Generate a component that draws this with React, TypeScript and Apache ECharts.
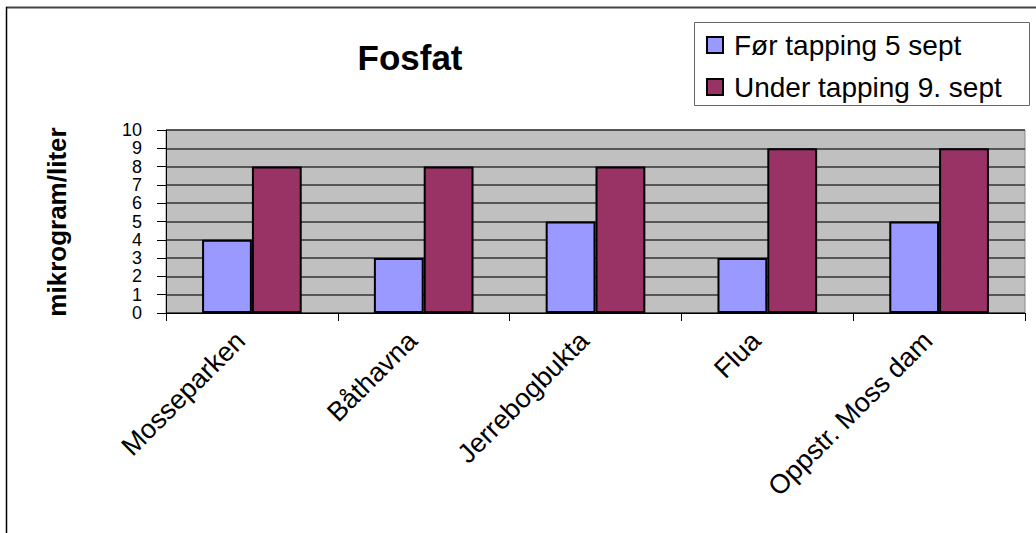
import React, { useEffect, useRef } from "react";
import * as echarts from "echarts";

const categories = ["Mosseparken", "Båthavna", "Jerrebogbukta", "Flua", "Oppstr. Moss dam"];
const forTapping = [4, 3, 5, 3, 5];
const underTapping = [8, 8, 8, 9, 9];
const seriesNames = ["Før tapping 5 sept", "Under tapping 9. sept"];
const titleText = "Fosfat";
const yAxisName = "mikrogram/liter";

const FONT = "'Liberation Sans', Arial, sans-serif";

export default function App() {
  const ref = useRef<HTMLDivElement>(null);
  useEffect(() => {
    if (!ref.current) return;
    const chart = echarts.init(ref.current, undefined, { renderer: "svg" });
    chart.setOption({
      animation: false,
      backgroundColor: "#ffffff",
      title: {
        text: titleText,
        left: 405,
        top: 35,
        textAlign: "center",
        textStyle: { fontFamily: FONT, fontSize: 35, fontWeight: "bold", color: "#000" },
      },
      legend: {
        orient: "vertical",
        left: 706,
        top: 31,
        padding: 0,
        itemWidth: 16,
        itemHeight: 16,
        itemGap: 14,
        icon: "rect",
        textStyle: { fontFamily: FONT, fontSize: 28, color: "#000", lineHeight: 28, padding: [0, 0, 0, 6] },
        data: seriesNames,
      },
      graphic: [
        { type: "line", shape: { x1: 6, y1: 7.5, x2: 1036, y2: 7.5 }, style: { stroke: "#444", lineWidth: 2 } },
        { type: "line", shape: { x1: 6.5, y1: 7, x2: 6.5, y2: 533 }, style: { stroke: "#000", lineWidth: 1.5 } },
        { type: "rect", shape: { x: 694.5, y: 22.5, width: 335, height: 83 }, style: { fill: "none", stroke: "#666", lineWidth: 1 }, z: -1 },
        {
          type: "text",
          x: 57,
          y: 222,
          rotation: Math.PI / 2,
          style: {
            text: yAxisName,
            fontFamily: FONT,
            fontSize: 26,
            fontWeight: "bold",
            fill: "#000",
            textAlign: "center",
            textVerticalAlign: "middle",
          },
        },
      ],
      grid: {
        left: 166,
        right: 11,
        top: 130,
        bottom: 220,
        show: true,
        backgroundColor: "#C0C0C0",
        borderColor: "#8a8a8a",
        borderWidth: 1,
      },
      xAxis: {
        type: "category",
        data: categories,
        boundaryGap: true,
        axisLine: { show: true, lineStyle: { color: "#000", width: 1 } },
        axisTick: { show: true, length: 8, alignWithLabel: false, lineStyle: { color: "#000" } },
        axisLabel: {
          rotate: 45,
          interval: 0,
          margin: 12,
          padding: [0, 16, 0, 0],
          fontFamily: FONT,
          fontSize: 27,
          color: "#000",
        },
      },
      yAxis: {
        type: "value",
        min: 0,
        max: 10,
        interval: 1,
        axisLine: { show: true, lineStyle: { color: "#000", width: 1 } },
        axisTick: { show: true, length: 9, lineStyle: { color: "#000" } },
        splitLine: { show: true, lineStyle: { color: "#333", width: 1.5 } },
        axisLabel: {
          margin: 24,
          fontFamily: FONT,
          fontSize: 18,
          color: "#000",
          showMinLabel: true,
          showMaxLabel: true,
          hideOverlap: false,
        },
      },
      series: [
        {
          name: seriesNames[0],
          type: "bar",
          data: forTapping,
          barGap: "0%",
          barCategoryGap: "42%",
          itemStyle: { color: "#9999FF", borderColor: "#000", borderWidth: 2 },
        },
        {
          name: seriesNames[1],
          type: "bar",
          data: underTapping,
          barGap: "0%",
          barCategoryGap: "42%",
          itemStyle: { color: "#993366", borderColor: "#000", borderWidth: 2 },
        },
      ],
    });
    return () => chart.dispose();
  }, []);
  return <div ref={ref} style={{ position: "fixed", left: 0, top: 0, width: 1036, height: 533 }} />;
}
